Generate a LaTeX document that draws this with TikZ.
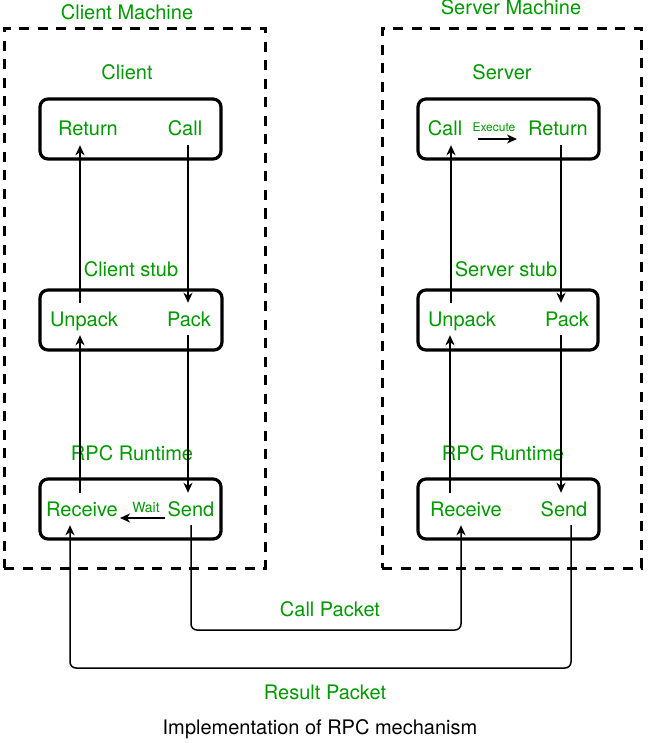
\documentclass[tikz,border=0pt]{standalone}
\usepackage{fontspec}
\setmainfont{TeX Gyre Heros}
\usetikzlibrary{positioning, arrows.meta, calc}

\definecolor{lblgreen}{RGB}{0,153,0}

\begin{document}
\begin{tikzpicture}[
    x=1pt, y=-1pt,
    >={Stealth[length=10pt, width=9pt, inset=3pt]},
    machine/.style={rectangle, draw, line width=3pt, dash pattern=on 10pt off 8.5pt, minimum width=261pt, minimum height=539pt, inner sep=0pt},
    box/.style={rectangle, rounded corners=8pt, draw, line width=3.2pt, minimum width=181pt, minimum height=60pt, inner sep=0pt},
    txt/.style={font=\fontsize{20}{23}\selectfont, text=lblgreen, inner xsep=2pt, inner ysep=9pt, text height=14pt, text depth=0pt},
    small/.style={txt, inner ysep=2pt, text height=9pt},
    arrow/.style={->, line width=1.5pt},
    link/.style={->, line width=1.5pt, rounded corners=6pt}
]
\useasboundingbox (0,0) rectangle (650,743);

% Machines
\node[machine] (cmachine) at (134.5,298.5) {};
\node[machine, minimum width=259pt] (smachine) at (511.5,298.5) {};
\node[txt] (cmachinelbl) at (127,13) {Client Machine};
\node[txt] (smachinelbl) at (511,8) {Server Machine};

% Client side
\node[txt] (clientlbl) at (127,73) {Client};
\node[box] (client) at (130.5,129) {};
\node[txt] (creturn) at (88,129) {Return};
\node[txt] (ccall) at (185,129) {Call};

\node[txt] (cstublbl) at (131,269) {Client stub};
\node[box, minimum width=182pt] (cstub) at (131,320) {};
\node[txt] (cunpack) at (84,319) {Unpack};
\node[txt] (cpack) at (189,319) {Pack};

\node[txt] (crtlbl) at (132,453) {RPC Runtime};
\node[box] (crt) at (130.5,509) {};
\node[txt] (crecv) at (82,509) {Receive};
\node[txt] (csend) at (191,509) {Send};

% Server side
\node[txt] (serverlbl) at (502,73) {Server};
\node[box] (server) at (508.5,129) {};
\node[txt] (scall) at (445,129) {Call};
\node[txt] (sreturn) at (558,129) {Return};

\node[txt] (sstublbl) at (506,269) {Server stub};
\node[box, minimum width=180pt] (sstub) at (508,320) {};
\node[txt] (sunpack) at (462,319) {Unpack};
\node[txt] (spack) at (567,319) {Pack};

\node[txt] (srtlbl) at (503,453) {RPC Runtime};
\node[box] (srt) at (508.5,509) {};
\node[txt] (srecv) at (466,509) {Receive};
\node[txt] (ssend) at (564,509) {Send};

% Client flow
\draw[arrow] ([xshift=3pt]ccall.south) -- ([xshift=-1pt]cpack.north);
\draw[arrow] ([xshift=-1pt]cpack.south) -- ([xshift=-3pt]csend.north);
\draw[arrow] ([yshift=-9pt]csend.west) -- ([yshift=-9pt]crecv.east);
\node[small, font=\fontsize{14}{16}\selectfont] (waitlbl) at (146,508) {Wait};
\draw[arrow] ([xshift=-2pt]crecv.north) -- ([xshift=-4pt]cunpack.south);
\draw[arrow] ([xshift=-4pt]cunpack.north) -- ([xshift=-8pt]creturn.south);

% Server flow
\draw[arrow] ([xshift=-16pt]srecv.north) -- ([xshift=-12pt]sunpack.south);
\draw[arrow] ([xshift=-11pt]sunpack.north) -- ([xshift=6pt]scall.south);
\draw[arrow] ([xshift=14pt,yshift=-10pt]scall.east) -- ([xshift=-9pt,yshift=-10pt]sreturn.west);
\node[small, font=\fontsize{12}{14}\selectfont] (execlbl) at (494,127) {Execute};
\draw[arrow] ([xshift=3pt]sreturn.south) -- ([xshift=-6pt]spack.north);
\draw[arrow] ([xshift=-6pt]spack.south) -- ([xshift=-3pt]ssend.north);

% Packets
\coordinate (callbot) at (330,630);
\coordinate (resbot) at (325,668);
\draw[link] (csend.south) |- (callbot) -| ([xshift=-5pt]srecv.south);
\draw[link] ([xshift=7pt]ssend.south) |- (resbot) -| ([xshift=-12pt]crecv.south);
\node[txt] (calllbl) at (330,609) {Call Packet};
\node[txt] (reslbl) at (325,692) {Result Packet};

\node[txt, text=black] (caption) at (320,727) {Implementation of RPC mechanism};

\end{tikzpicture}
\end{document}
